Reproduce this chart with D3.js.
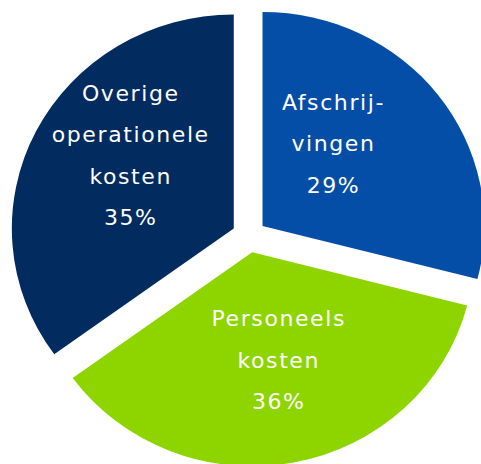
<!DOCTYPE html>
<html>
<head>
<meta charset="utf-8">
<script src="https://cdn.jsdelivr.net/npm/d3@7"></script>
<style>
  body { margin: 0; background: #fff; }
  svg { display: block; }
</style>
</head>
<body>
<div id="chart"></div>
<script>
// cost breakdown, share in %
const categories = ['Afschrijvingen', 'Personeelskosten', 'Overige operationele kosten']
const values = [29, 36, 35]
const labelLines = [
  ['Afschrij-', 'vingen'],
  ['Personeels', 'kosten'],
  ['Overige', 'operationele', 'kosten']
]
const colors = ['#044ea8', '#8ed500', '#022b5f']

const width = 481
const height = 464
const cx = 249
const cy = 236
const radius = 214
const stretch = 1.037 // picture is slightly wider than tall
const explode = 16.5
const lineHeight = 41.5

// where each label block sits: [angle in degrees, distance from centre]
const labelPos = [[41, 123], [167.3, 127], [305.2, 140.5]]

const svg = d3.select('#chart')
  .append('svg')
  .attr('width', width)
  .attr('height', height)

const pie = d3.pie().sort(null).value(d => d)
const arc = d3.arc().innerRadius(0).outerRadius(radius)

const slices = pie(values)

const pieGroup = svg.append('g')
  .attr('transform', `translate(${cx},${cy}) scale(${stretch},1)`)

pieGroup.selectAll('path')
  .data(slices)
  .enter()
  .append('path')
  .attr('d', arc)
  .attr('fill', (d, i) => colors[i])
  .attr('transform', d => {
    const mid = (d.startAngle + d.endAngle) / 2
    return `translate(${explode * Math.sin(mid)},${-explode * Math.cos(mid)})`
  })

// labels
slices.forEach((d, i) => {
  const a = labelPos[i][0] * Math.PI / 180
  const r = labelPos[i][1]
  const x = cx + stretch * r * Math.sin(a)
  const y = cy - r * Math.cos(a)
  const lines = labelLines[i].concat([values[i] + '%'])
  const top = y - (lines.length - 1) * lineHeight / 2

  const text = svg.append('text')
    .attr('text-anchor', 'middle')
    .attr('dominant-baseline', 'central')
    .attr('fill', '#fff')
    .style('font-family', '"DejaVu Sans", sans-serif')
    .style('font-size', '22px')
    .style('letter-spacing', '1.6px')

  lines.forEach((line, j) => {
    text.append('tspan')
      .attr('x', x + 0.8)
      .attr('y', top + j * lineHeight)
      .text(line)
  })
})
</script>
</body>
</html>
